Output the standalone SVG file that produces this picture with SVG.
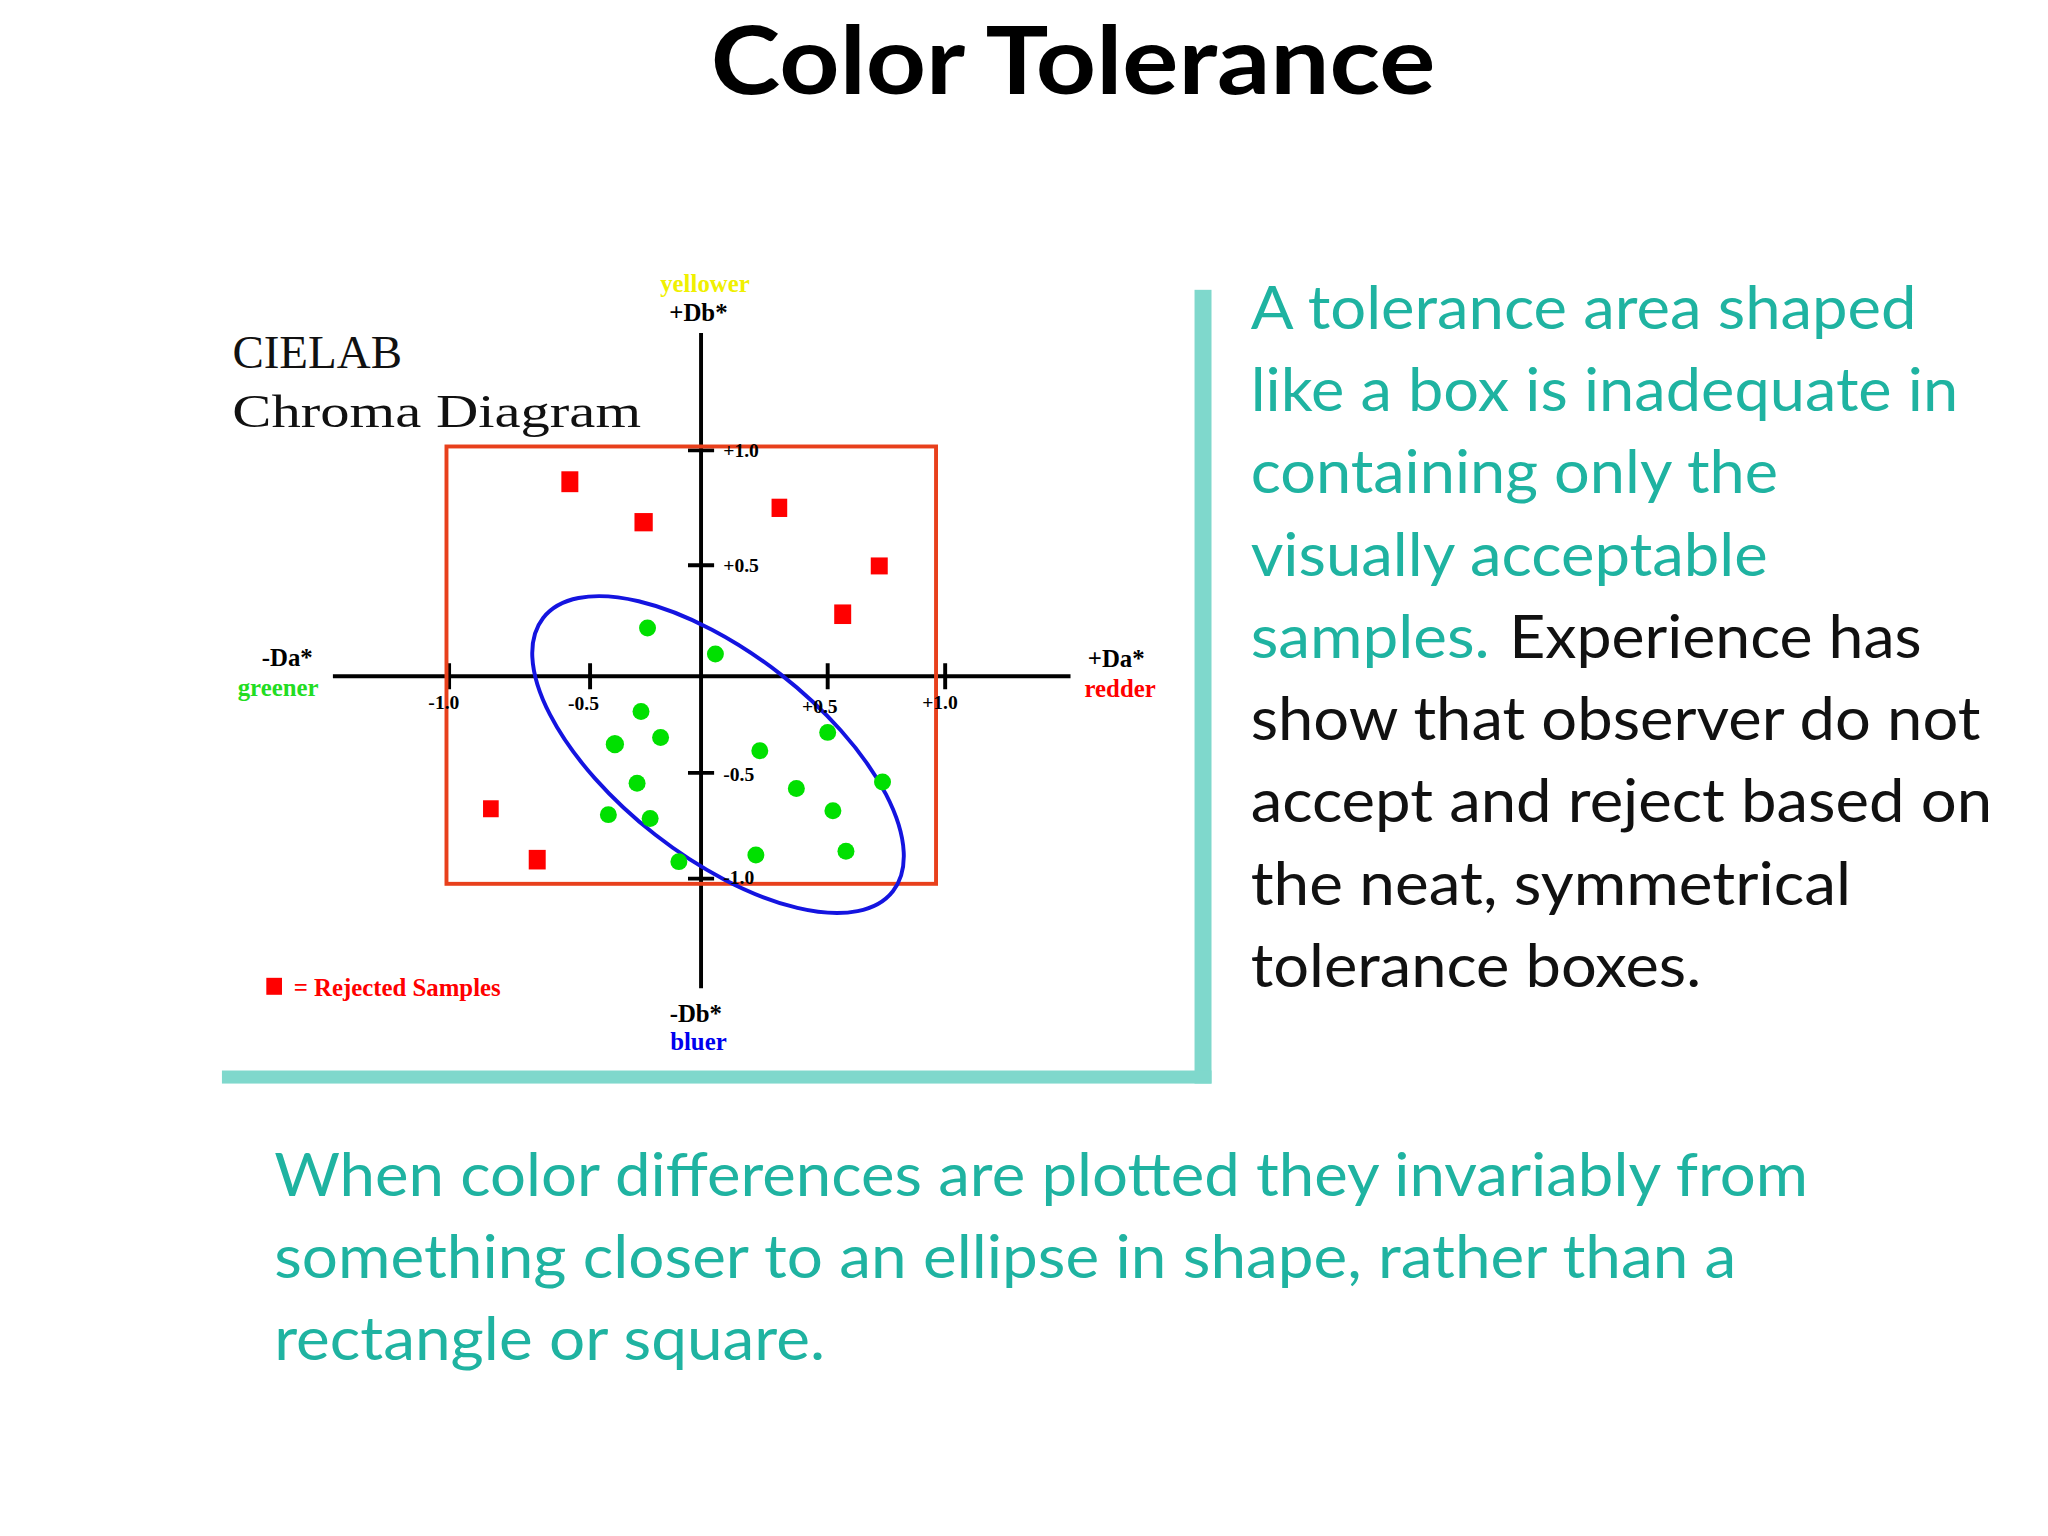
<svg xmlns="http://www.w3.org/2000/svg" width="2048" height="1536" viewBox="0 0 2048 1536">
<style>
.t{font-family:Lato,"Open Sans",sans-serif;font-size:46px}
.teal{fill:#1fb3a1}.blk{fill:#111}
.s{font-family:"Liberation Serif",serif;font-weight:bold}
.rej{fill:#ff0000}.ok{fill:#00e000}
</style>
<rect width="2048" height="1536" fill="#fff"/>
<g transform="scale(1.3055)">
<g id="title"><text x="822" y="72" text-anchor="middle" font-family="Lato,'Open Sans',sans-serif" font-weight="bold" font-size="72" fill="#000" textLength="555" lengthAdjust="spacingAndGlyphs">Color Tolerance</text></g>
<g id="frame" fill="#7fd8cc"><rect x="915" y="222" width="13" height="608"/><rect x="170" y="820" width="758" height="10"/></g>
<g id="chart">
<g stroke="#000" stroke-width="3" fill="none">
<line x1="255" y1="518" x2="820" y2="518"/><line x1="537" y1="255" x2="537" y2="757"/>
<path d="M344 508v20M452 508v20M634 508v20M724 508v20M527 345h20M527 433h20M527 592h20M527 673h20"/>
</g>
<rect x="342" y="342" width="375" height="335" fill="none" stroke="#e8401c" stroke-width="3"/>
<ellipse cx="550" cy="578" rx="170" ry="78" transform="rotate(38 550 578)" fill="none" stroke="#1414e0" stroke-width="3"/>
<g class="rej"><rect x="430" y="361" width="13" height="16"/><rect x="486" y="393" width="14" height="14"/><rect x="591" y="382" width="12" height="14"/><rect x="667" y="427" width="13" height="13"/><rect x="639" y="463" width="13" height="15"/><rect x="370" y="613" width="12" height="13"/><rect x="405" y="651" width="13" height="15"/></g>
<g class="ok"><circle cx="496" cy="481" r="6.5"/><circle cx="548" cy="501" r="6.5"/><circle cx="491" cy="545" r="6.5"/><circle cx="471" cy="570" r="7"/><circle cx="506" cy="565" r="6.5"/><circle cx="582" cy="575" r="6.5"/><circle cx="634" cy="561" r="6.5"/><circle cx="488" cy="600" r="6.5"/><circle cx="610" cy="604" r="6.5"/><circle cx="676" cy="599" r="6.5"/><circle cx="466" cy="624" r="6.5"/><circle cx="498" cy="627" r="6.5"/><circle cx="638" cy="621" r="6.5"/><circle cx="648" cy="652" r="6.5"/><circle cx="579" cy="655" r="6.5"/><circle cx="520" cy="660" r="6.5"/></g>
<g class="s" font-size="19">
<text x="540" y="224" text-anchor="middle" fill="#f0f000">yellower</text>
<text x="535" y="246" text-anchor="middle">+Db*</text>
<text x="220" y="510" text-anchor="middle">-Da*</text>
<text x="213" y="533" text-anchor="middle" fill="#22dd22">greener</text>
<text x="855" y="511" text-anchor="middle">+Da*</text>
<text x="858" y="534" text-anchor="middle" fill="#ff0000">redder</text>
<text x="533" y="783" text-anchor="middle">-Db*</text>
<text x="535" y="804" text-anchor="middle" fill="#0000ee">bluer</text>
<text x="225" y="763" fill="#ff0000">= Rejected Samples</text>
</g>
<rect x="204" y="749" width="12" height="13" fill="#ff0000"/>
<g class="s" font-size="15">
<text x="340" y="543" text-anchor="middle">-1.0</text><text x="447" y="544" text-anchor="middle">-0.5</text>
<text x="628" y="546" text-anchor="middle">+0.5</text><text x="720" y="543" text-anchor="middle">+1.0</text>
<text x="554" y="350">+1.0</text><text x="554" y="438">+0.5</text><text x="554" y="598">-0.5</text><text x="554" y="677">-1.0</text>
</g>
<g font-family="'Liberation Serif',serif" font-size="36" fill="#111"><text x="178" y="282">CIELAB</text><text x="178" y="327" textLength="313" lengthAdjust="spacingAndGlyphs">Chroma Diagram</text></g>
</g>
<g id="right" class="t">
<text class="teal" x="958" y="252" textLength="510" lengthAdjust="spacingAndGlyphs">A tolerance area shaped</text>
<text class="teal" x="958" y="315" textLength="542" lengthAdjust="spacingAndGlyphs">like a box is inadequate in</text>
<text class="teal" x="958" y="378" textLength="404" lengthAdjust="spacingAndGlyphs">containing only the</text>
<text class="teal" x="958" y="441" textLength="396" lengthAdjust="spacingAndGlyphs">visually acceptable</text>
<text class="teal" x="958" y="504" textLength="183" lengthAdjust="spacingAndGlyphs">samples.</text>
<text class="blk" x="1156" y="504" textLength="316" lengthAdjust="spacingAndGlyphs">Experience has</text>
<text class="blk" x="958" y="567" textLength="559" lengthAdjust="spacingAndGlyphs">show that observer do not</text>
<text class="blk" x="958" y="630" textLength="568" lengthAdjust="spacingAndGlyphs">accept and reject based on</text>
<text class="blk" x="958" y="693" textLength="460" lengthAdjust="spacingAndGlyphs">the neat, symmetrical</text>
<text class="blk" x="958" y="756" textLength="345" lengthAdjust="spacingAndGlyphs">tolerance boxes.</text>
</g>
<g id="bottom" class="t">
<text class="teal" x="210" y="916" textLength="1175" lengthAdjust="spacingAndGlyphs">When color differences are plotted they invariably from</text>
<text class="teal" x="210" y="979" textLength="1120" lengthAdjust="spacingAndGlyphs">something closer to an ellipse in shape, rather than a</text>
<text class="teal" x="210" y="1042" textLength="422" lengthAdjust="spacingAndGlyphs">rectangle or square.</text>
</g>
</g>
</svg>
